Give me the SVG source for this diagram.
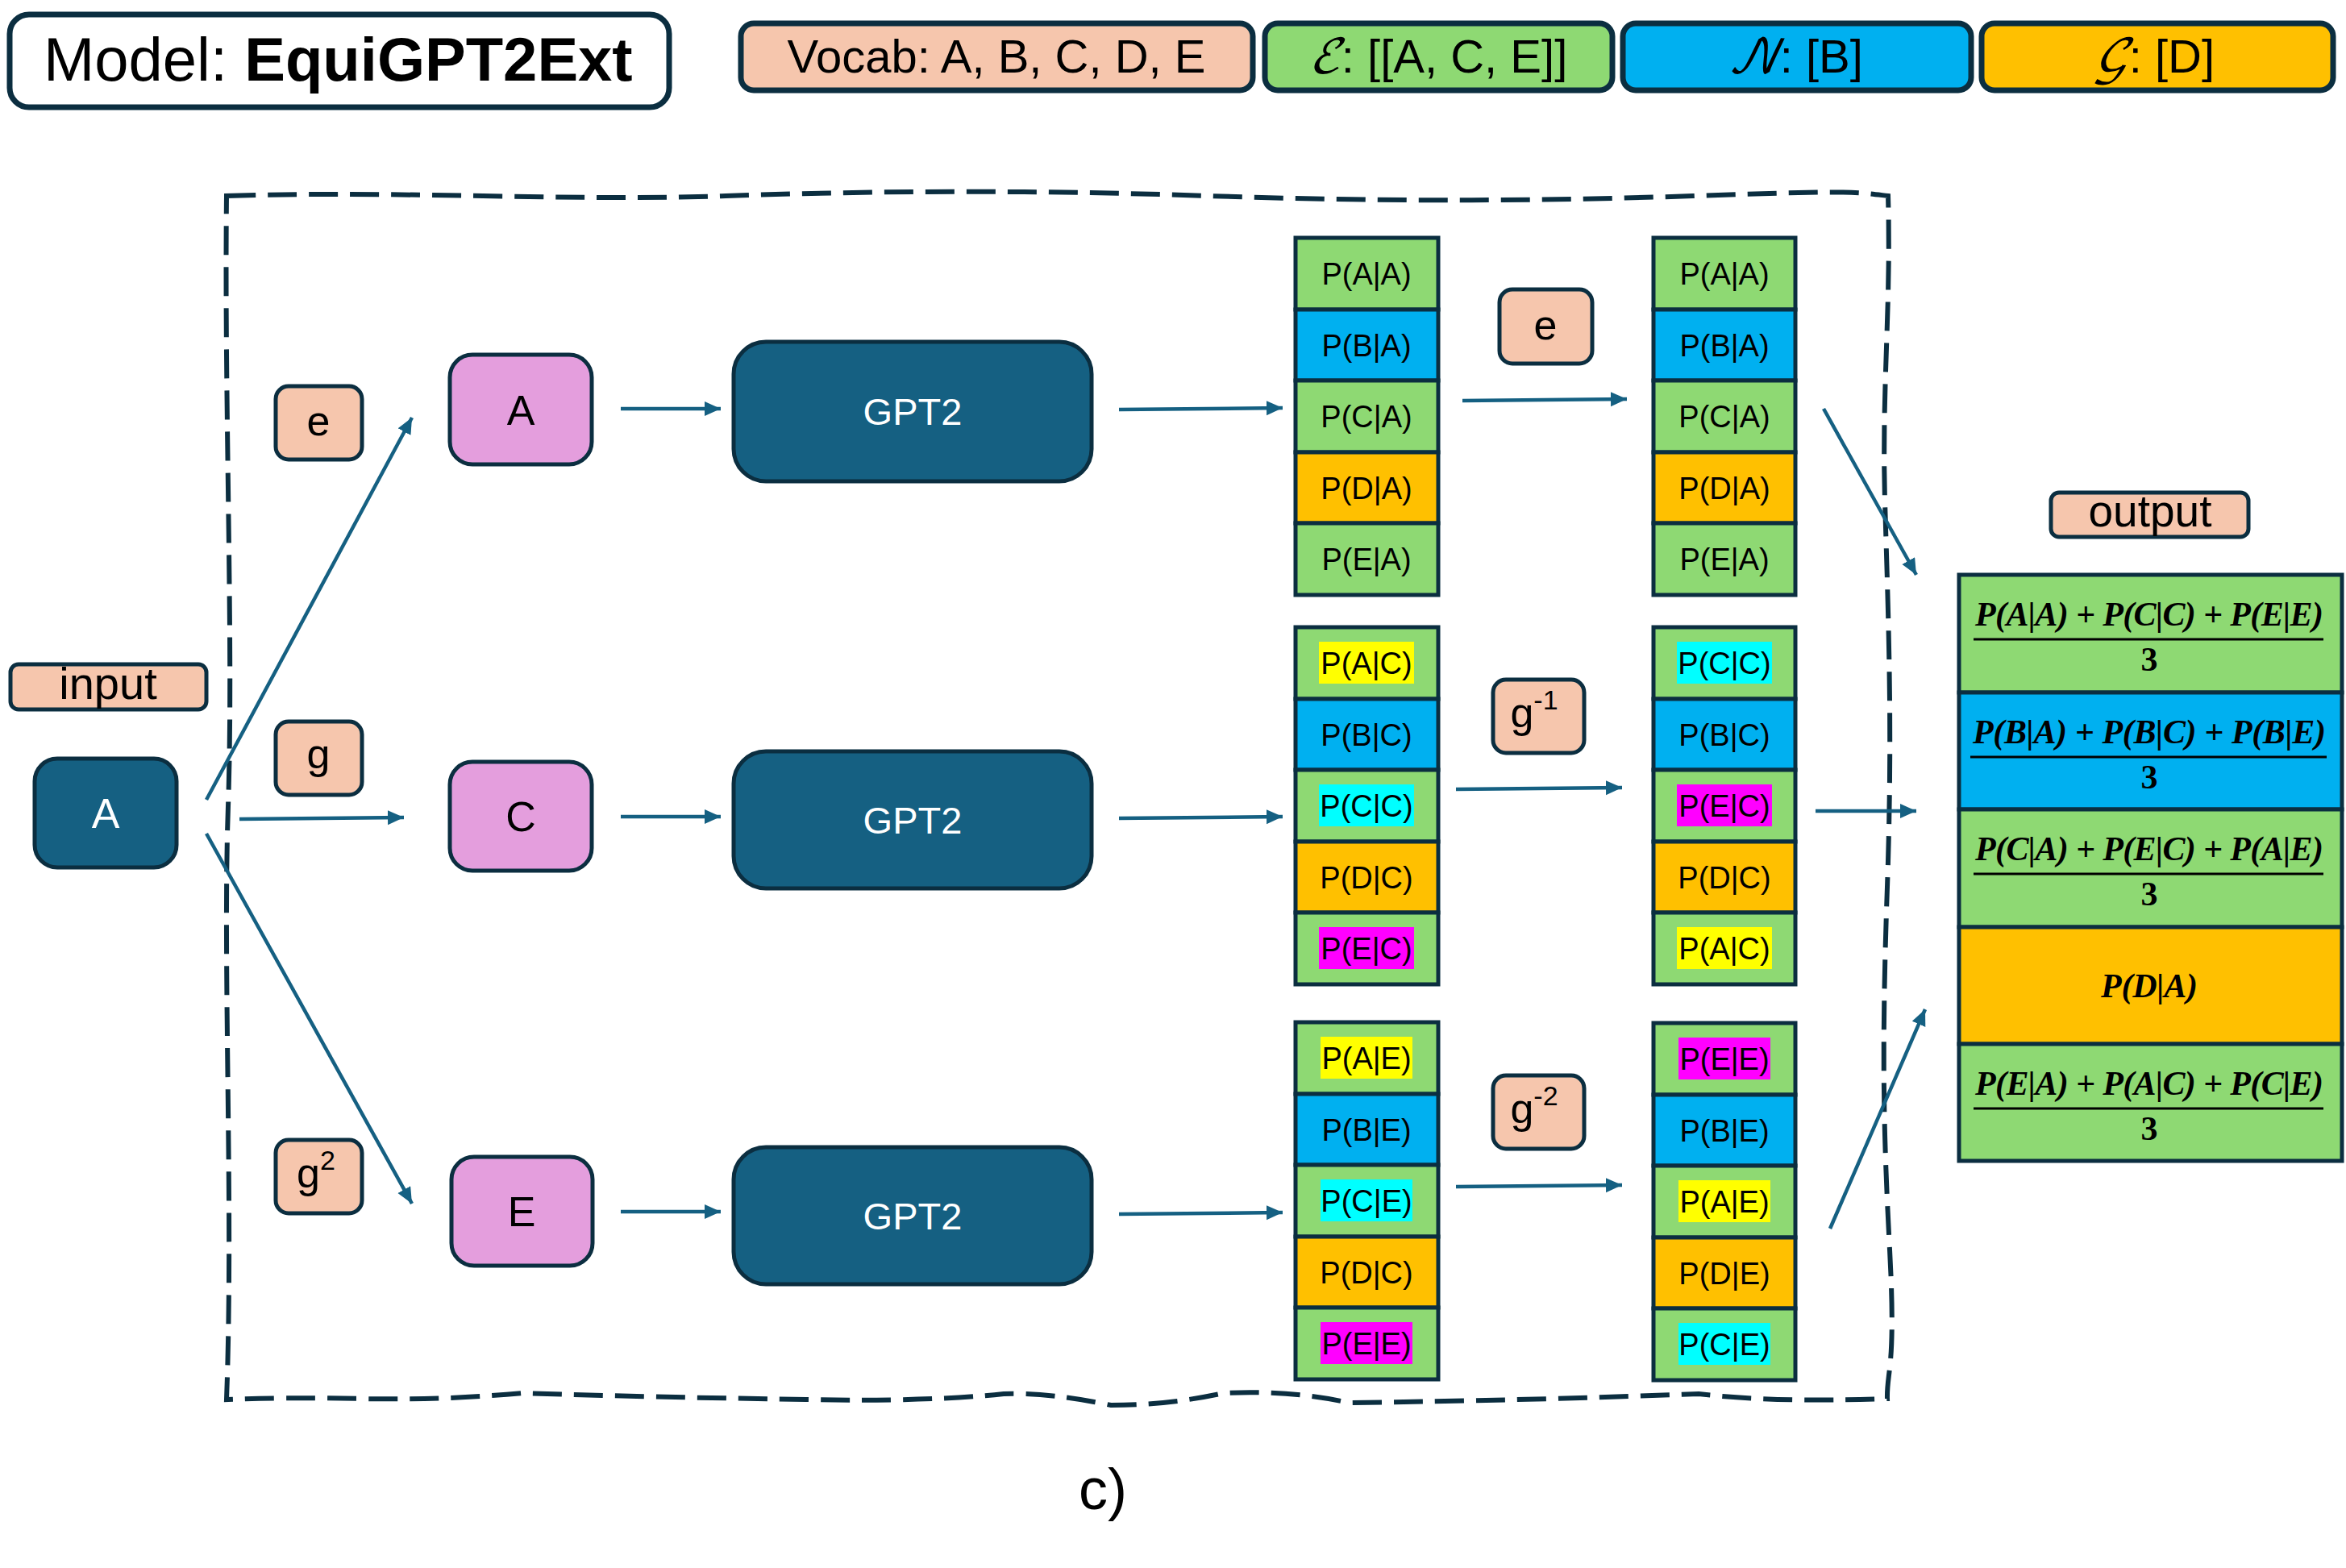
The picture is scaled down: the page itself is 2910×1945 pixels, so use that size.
<svg xmlns="http://www.w3.org/2000/svg" width="2910" height="1945" viewBox="0 0 2910 1945">
<style>
text{font-family:"Liberation Sans",Arial,sans-serif;fill:#000}
.hdr{stroke:#0B2E40;stroke-width:7}
.nd{stroke:#0B2E40;stroke-width:5}
.cell{stroke:#0B2E40;stroke-width:5}
.peach{fill:#F6C6AD}
.green{fill:#8ED973}
.blue{fill:#00B0F0}
.orange{fill:#FFC000}
.pink{fill:#E49EDD}
.teal{fill:#156082}
.hy{fill:#FFFF00}
.hc{fill:#00FFFF}
.hm{fill:#FF00FF}
.ct{font-size:38px;text-anchor:middle}
.lb{font-size:52px;text-anchor:middle}
.wt{fill:#FFFFFF}
.fr{font-family:"Liberation Serif","Times New Roman",serif;font-weight:bold;font-style:italic;font-size:42px;text-anchor:middle}
.three{font-family:"Liberation Serif","Times New Roman",serif;font-weight:bold;font-size:42px;text-anchor:middle}
.bar{stroke:#000;stroke-width:3}
.ar{stroke:#156082;stroke-width:4.5;fill:none;marker-end:url(#ah)}
.scr{font-family:"DejaVu Math TeX Gyre","DejaVu Serif",serif;font-style:italic}
</style>
<defs>
<marker id="ah" markerUnits="userSpaceOnUse" markerWidth="22" markerHeight="20" refX="20" refY="9" orient="auto">
<path d="M0,0 L20,9 L0,18 z" fill="#156082"/>
</marker>
</defs>

<!-- Header -->
<g id="model-title">
<rect class="hdr" x="12" y="18" width="818" height="115" rx="24" fill="#FFFFFF"/>
<text x="54" y="100" font-size="76">Model: <tspan font-weight="bold">EquiGPT2Ext</tspan></text>
</g>
<g id="vocab">
<rect class="hdr peach" x="919" y="29" width="635" height="83" rx="16"/>
<text x="1236" y="90" font-size="58" text-anchor="middle">Vocab: A, B, C, D, E</text>
</g>
<g id="legend-e">
<rect class="hdr green" x="1569" y="29" width="431" height="83" rx="16"/>
<text x="1784" y="90" font-size="58" text-anchor="middle"><tspan class="scr">ℰ</tspan>: [[A, C, E]]</text>
</g>
<g id="legend-n">
<rect class="hdr blue" x="2013" y="29" width="432" height="83" rx="16"/>
<text x="2227" y="90" font-size="58" text-anchor="middle"><tspan class="scr">𝒩</tspan>: [B]</text>
</g>
<g id="legend-g">
<rect class="hdr orange" x="2458" y="29" width="436" height="83" rx="16"/>
<text x="2672" y="90" font-size="58" text-anchor="middle"><tspan class="scr">𝒢</tspan>: [D]</text>
</g>

<!-- dashed boundary -->
<g id="boundary">
<path d="M281,243 C500,236 700,250 900,243 S1300,236 1500,243 S1900,250 2100,243 S2300,238 2342,243 C2346,380 2334,480 2338,620 S2348,900 2341,1100 S2336,1400 2344,1550 S2340,1700 2341,1735 Q2200,1740 2107,1729 Q1900,1737 1673,1740 Q1600,1724 1518,1728 Q1450,1743 1378,1743 Q1300,1727 1245,1729 Q1150,1739 1000,1736 Q800,1733 649,1728 Q550,1737 450,1735 Q350,1733 281,1736 C290,1500 276,1200 283,1000 S278,500 281,243 Z" fill="none" stroke="#0B2E40" stroke-width="6" stroke-dasharray="36 15"/>
</g>

<!-- input -->
<g id="input-label">
<rect class="nd peach" x="13" y="824" width="243" height="56" rx="10" stroke-width="4"/>
<text x="134" y="867" font-size="56" text-anchor="middle">input</text>
</g>
<g id="input-A">
<rect class="nd teal" x="43" y="941" width="176" height="135" rx="28"/>
<text class="lb wt" x="131" y="1027">A</text>
</g>

<!-- group labels -->
<g id="lbl-e1"><rect class="nd peach" x="342" y="479" width="107" height="91" rx="16"/><text class="lb" x="395" y="540">e</text></g>
<g id="lbl-g"><rect class="nd peach" x="342" y="895" width="107" height="91" rx="16"/><text class="lb" x="395" y="953">g</text></g>
<g id="lbl-g2"><rect class="nd peach" x="342" y="1414" width="107" height="91" rx="16"/><text class="lb" x="392" y="1473">g<tspan font-size="34" dy="-22">2</tspan></text></g>

<!-- transformed tokens -->
<g id="tok-A"><rect class="nd pink" x="558" y="440" width="176" height="136" rx="28"/><text class="lb" x="646" y="527">A</text></g>
<g id="tok-C"><rect class="nd pink" x="558" y="945" width="176" height="135" rx="28"/><text class="lb" x="646" y="1031">C</text></g>
<g id="tok-E"><rect class="nd pink" x="560" y="1435" width="175" height="135" rx="28"/><text class="lb" x="647" y="1521">E</text></g>

<!-- GPT2 -->
<g id="gpt2-1"><rect class="nd teal" x="910" y="424" width="444" height="173" rx="40"/><text x="1132" y="527" font-size="47" text-anchor="middle" class="wt">GPT2</text></g>
<g id="gpt2-2"><rect class="nd teal" x="910" y="932" width="444" height="170" rx="40"/><text x="1132" y="1034" font-size="47" text-anchor="middle" class="wt">GPT2</text></g>
<g id="gpt2-3"><rect class="nd teal" x="910" y="1423" width="444" height="170" rx="40"/><text x="1132" y="1525" font-size="47" text-anchor="middle" class="wt">GPT2</text></g>

<!-- column 1 -->
<g id="c1-top">
<rect class="cell green" x="1607" y="295" width="177" height="89"/><text class="ct" x="1695" y="353">P(A|A)</text>
<rect class="cell blue" x="1607" y="384" width="177" height="88"/><text class="ct" x="1695" y="442">P(B|A)</text>
<rect class="cell green" x="1607" y="472" width="177" height="89"/><text class="ct" x="1695" y="530">P(C|A)</text>
<rect class="cell orange" x="1607" y="561" width="177" height="88"/><text class="ct" x="1695" y="619">P(D|A)</text>
<rect class="cell green" x="1607" y="649" width="177" height="89"/><text class="ct" x="1695" y="707">P(E|A)</text>
</g>
<g id="c1-mid">
<rect class="cell green" x="1607" y="778" width="177" height="89"/><rect class="hy" x="1636" y="796" width="118" height="52"/><text class="ct" x="1695" y="836">P(A|C)</text>
<rect class="cell blue" x="1607" y="867" width="177" height="88"/><text class="ct" x="1695" y="925">P(B|C)</text>
<rect class="cell green" x="1607" y="955" width="177" height="89"/><rect class="hc" x="1636" y="973" width="118" height="52"/><text class="ct" x="1695" y="1013">P(C|C)</text>
<rect class="cell orange" x="1607" y="1044" width="177" height="88"/><text class="ct" x="1695" y="1102">P(D|C)</text>
<rect class="cell green" x="1607" y="1132" width="177" height="89"/><rect class="hm" x="1636" y="1150" width="118" height="52"/><text class="ct" x="1695" y="1190">P(E|C)</text>
</g>
<g id="c1-bot">
<rect class="cell green" x="1607" y="1268" width="177" height="89"/><rect class="hy" x="1638" y="1286" width="114" height="52"/><text class="ct" x="1695" y="1326">P(A|E)</text>
<rect class="cell blue" x="1607" y="1357" width="177" height="88"/><text class="ct" x="1695" y="1415">P(B|E)</text>
<rect class="cell green" x="1607" y="1445" width="177" height="89"/><rect class="hc" x="1638" y="1463" width="114" height="52"/><text class="ct" x="1695" y="1503">P(C|E)</text>
<rect class="cell orange" x="1607" y="1534" width="177" height="88"/><text class="ct" x="1695" y="1592">P(D|C)</text>
<rect class="cell green" x="1607" y="1622" width="177" height="89"/><rect class="hm" x="1638" y="1640" width="114" height="52"/><text class="ct" x="1695" y="1680">P(E|E)</text>
</g>

<!-- column 2 -->
<g id="c2-top">
<rect class="cell green" x="2051" y="295" width="176" height="89"/><text class="ct" x="2139" y="353">P(A|A)</text>
<rect class="cell blue" x="2051" y="384" width="176" height="88"/><text class="ct" x="2139" y="442">P(B|A)</text>
<rect class="cell green" x="2051" y="472" width="176" height="89"/><text class="ct" x="2139" y="530">P(C|A)</text>
<rect class="cell orange" x="2051" y="561" width="176" height="88"/><text class="ct" x="2139" y="619">P(D|A)</text>
<rect class="cell green" x="2051" y="649" width="176" height="89"/><text class="ct" x="2139" y="707">P(E|A)</text>
</g>
<g id="c2-mid">
<rect class="cell green" x="2051" y="778" width="176" height="89"/><rect class="hc" x="2080" y="796" width="118" height="52"/><text class="ct" x="2139" y="836">P(C|C)</text>
<rect class="cell blue" x="2051" y="867" width="176" height="88"/><text class="ct" x="2139" y="925">P(B|C)</text>
<rect class="cell green" x="2051" y="955" width="176" height="89"/><rect class="hm" x="2080" y="973" width="118" height="52"/><text class="ct" x="2139" y="1013">P(E|C)</text>
<rect class="cell orange" x="2051" y="1044" width="176" height="88"/><text class="ct" x="2139" y="1102">P(D|C)</text>
<rect class="cell green" x="2051" y="1132" width="176" height="89"/><rect class="hy" x="2080" y="1150" width="118" height="52"/><text class="ct" x="2139" y="1190">P(A|C)</text>
</g>
<g id="c2-bot">
<rect class="cell green" x="2051" y="1269" width="176" height="89"/><rect class="hm" x="2082" y="1287" width="114" height="52"/><text class="ct" x="2139" y="1327">P(E|E)</text>
<rect class="cell blue" x="2051" y="1358" width="176" height="88"/><text class="ct" x="2139" y="1416">P(B|E)</text>
<rect class="cell green" x="2051" y="1446" width="176" height="89"/><rect class="hy" x="2082" y="1464" width="114" height="52"/><text class="ct" x="2139" y="1504">P(A|E)</text>
<rect class="cell orange" x="2051" y="1535" width="176" height="88"/><text class="ct" x="2139" y="1593">P(D|E)</text>
<rect class="cell green" x="2051" y="1623" width="176" height="89"/><rect class="hc" x="2082" y="1641" width="114" height="52"/><text class="ct" x="2139" y="1681">P(C|E)</text>
</g>

<!-- transform labels -->
<g id="lbl-e2"><rect class="nd peach" x="1860" y="359" width="115" height="92" rx="16"/><text class="lb" x="1917" y="421">e</text></g>
<g id="lbl-ginv"><rect class="nd peach" x="1852" y="843" width="113" height="91" rx="16"/><text class="lb" x="1903" y="902">g<tspan font-size="34" dy="-22">-1</tspan></text></g>
<g id="lbl-ginv2"><rect class="nd peach" x="1852" y="1334" width="113" height="91" rx="16"/><text class="lb" x="1903" y="1393">g<tspan font-size="34" dy="-22">-2</tspan></text></g>

<!-- output -->
<g id="output-label">
<rect class="nd peach" x="2544" y="611" width="245" height="55" rx="10" stroke-width="4"/>
<text x="2667" y="653" font-size="55" text-anchor="middle">output</text>
</g>
<g id="output">
<rect class="cell green" x="2430" y="713" width="475" height="146"/>
<text class="fr" x="2666" y="776" textLength="432" lengthAdjust="spacing">P(A|A) + P(C|C) + P(E|E)</text>
<line class="bar" x1="2448" y1="793" x2="2882" y2="793"/>
<text class="three" x="2666" y="832">3</text>
<rect class="cell blue" x="2430" y="859" width="475" height="145"/>
<text class="fr" x="2666" y="922" textLength="438" lengthAdjust="spacing">P(B|A) + P(B|C) + P(B|E)</text>
<line class="bar" x1="2444" y1="939" x2="2886" y2="939"/>
<text class="three" x="2666" y="978">3</text>
<rect class="cell green" x="2430" y="1004" width="475" height="146"/>
<text class="fr" x="2666" y="1067" textLength="432" lengthAdjust="spacing">P(C|A) + P(E|C) + P(A|E)</text>
<line class="bar" x1="2448" y1="1084" x2="2882" y2="1084"/>
<text class="three" x="2666" y="1123">3</text>
<rect class="cell orange" x="2430" y="1150" width="475" height="145"/>
<text class="fr" x="2666" y="1237" textLength="120" lengthAdjust="spacing">P(D|A)</text>
<rect class="cell green" x="2430" y="1295" width="475" height="145"/>
<text class="fr" x="2666" y="1358" textLength="432" lengthAdjust="spacing">P(E|A) + P(A|C) + P(C|E)</text>
<line class="bar" x1="2448" y1="1375" x2="2882" y2="1375"/>
<text class="three" x="2666" y="1414">3</text>
</g>

<!-- connectors -->
<g id="connectors">
<line class="ar" x1="256" y1="992" x2="511" y2="518" stroke-width="3.5"/>
<line class="ar" x1="297" y1="1016" x2="501" y2="1014" stroke-width="3.5"/>
<line class="ar" x1="256" y1="1034" x2="511" y2="1493" stroke-width="3.5"/>
<line class="ar" x1="770" y1="507" x2="894" y2="507"/>
<line class="ar" x1="770" y1="1013" x2="894" y2="1013"/>
<line class="ar" x1="770" y1="1503" x2="894" y2="1503"/>
<line class="ar" x1="1388" y1="508" x2="1591" y2="506"/>
<line class="ar" x1="1388" y1="1015" x2="1591" y2="1013"/>
<line class="ar" x1="1388" y1="1506" x2="1591" y2="1504"/>
<line class="ar" x1="1814" y1="497" x2="2018" y2="495"/>
<line class="ar" x1="1806" y1="979" x2="2012" y2="977"/>
<line class="ar" x1="1806" y1="1472" x2="2012" y2="1470"/>
<line class="ar" x1="2262" y1="507" x2="2377" y2="713" stroke-width="3.5"/>
<line class="ar" x1="2252" y1="1006" x2="2377" y2="1006" stroke-width="3.5"/>
<line class="ar" x1="2270" y1="1524" x2="2388" y2="1252" stroke-width="3.5"/>
</g>

<text x="1368" y="1872" font-size="72" text-anchor="middle">c)</text>
</svg>
